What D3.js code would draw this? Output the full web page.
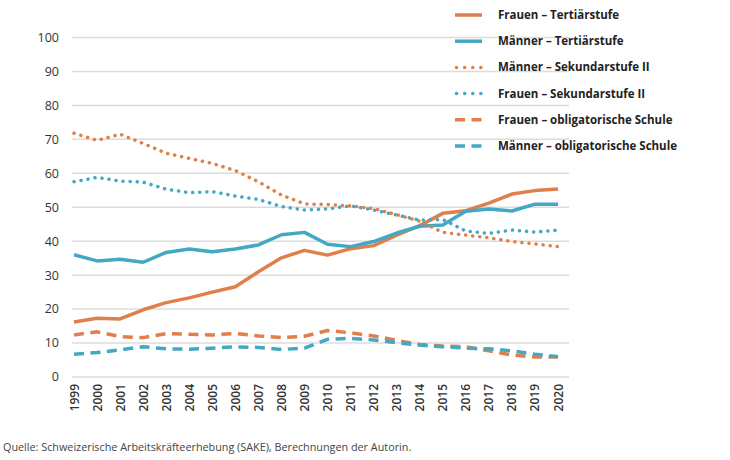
<!DOCTYPE html>
<html>
<head>
<meta charset="utf-8">
<script src="https://cdn.jsdelivr.net/npm/d3@7"></script>
<style>
  body { margin: 0; background: #fff; }
  svg { display: block; font-family: "Open Sans", sans-serif; }
</style>
</head>
<body>
<svg id="chart"></svg>
<script>
// ================================
// DATA
// ================================
const years = [1999, 2000, 2001, 2002, 2003, 2004, 2005, 2006, 2007, 2008, 2009,
    2010, 2011, 2012, 2013, 2014, 2015, 2016, 2017, 2018, 2019, 2020];

const frauenTertiaer = [16.2, 17.3, 17.1, 19.8, 21.9, 23.3, 25.0, 26.6, 31.0, 35.1, 37.3,
    35.9, 37.8, 38.7, 41.8, 44.6, 48.2, 49.0, 51.2, 53.9, 54.9, 55.4];
const maennerTertiaer = [36.0, 34.2, 34.7, 33.8, 36.7, 37.7, 36.9, 37.7, 38.9, 41.9, 42.6,
    39.1, 38.4, 39.9, 42.4, 44.4, 44.8, 48.8, 49.5, 48.9, 50.9, 50.9];
const maennerSek = [71.8, 69.7, 71.5, 68.8, 65.9, 64.4, 62.9, 60.8, 57.5, 53.6, 51.0,
    50.8, 50.4, 49.6, 47.8, 45.9, 42.6, 41.8, 41.0, 39.9, 39.2, 38.4];
const frauenSek = [57.5, 58.8, 57.7, 57.4, 55.3, 54.3, 54.6, 53.3, 52.3, 50.2, 49.2,
    49.5, 50.4, 49.2, 47.7, 46.2, 46.4, 43.0, 42.3, 43.3, 42.7, 43.3];
const frauenOblig = [12.4, 13.3, 11.9, 11.6, 12.8, 12.6, 12.4, 12.8, 12.1, 11.6, 12.0,
    13.7, 13.0, 12.1, 10.8, 9.6, 9.1, 8.9, 7.7, 6.5, 5.9, 5.9];
const maennerOblig = [6.7, 7.2, 8.0, 8.9, 8.3, 8.2, 8.5, 8.9, 8.7, 8.1, 8.5,
    11.1, 11.4, 10.9, 10.1, 9.4, 8.9, 8.5, 8.3, 7.7, 6.7, 6.0];

const yTicks = [0, 10, 20, 30, 40, 50, 60, 70, 80, 90, 100];

const seriesNames = [
    "Frauen – Tertiärstufe",
    "Männer – Tertiärstufe",
    "Männer – Sekundarstufe II",
    "Frauen – Sekundarstufe II",
    "Frauen – obligatorische Schule",
    "Männer – obligatorische Schule"
];
const seriesValues = [frauenTertiaer, maennerTertiaer, maennerSek, frauenSek, frauenOblig, maennerOblig];
const seriesStyles = ["solid", "solid", "dotted", "dotted", "dashed", "dashed"];

const sourceText = "Quelle: Schweizerische Arbeitskräfteerhebung (SAKE), Berechnungen der Autorin.";

// ================================
// SETUP
// ================================
const width = 730;
const height = 460;

const orange = "#e07f4c";
const blue = "#43a8c4";
const seriesColors = [orange, blue, orange, blue, orange, blue];

const svg = d3.select("#chart")
    .attr("width", width)
    .attr("height", height);

const x = d3.scaleLinear()
    .domain([years[0], years[years.length - 1]])
    .range([74, 558]);

const y = d3.scaleLinear()
    .domain([0, 100])
    .range([377, 37.5]);

const gridLeft = 72;
const gridRight = 569;

function dashFor(style) {
    if (style === "dotted") return "0.1,7";
    if (style === "dashed") return "10,6.5";
    return null;
}

// ================================
// GRID + Y LABELS
// ================================
const grid = svg.append("g");

grid.selectAll("line")
    .data(yTicks)
    .join("line")
    .attr("x1", gridLeft)
    .attr("x2", gridRight)
    .attr("y1", d => y(d))
    .attr("y2", d => y(d))
    .attr("stroke", "#dcdcdc")
    .attr("stroke-width", 1.5);

grid.selectAll("text")
    .data(yTicks)
    .join("text")
    .attr("x", 59)
    .attr("y", d => y(d))
    .attr("dy", "0.35em")
    .attr("text-anchor", "end")
    .style("font-size", "12.5px")
    .style("fill", "#333")
    .text(d => d);

// ================================
// X LABELS (rotated)
// ================================
svg.append("g")
    .selectAll("text")
    .data(years)
    .join("text")
    .attr("transform", d => `translate(${x(d) + 4.5}, 384) rotate(-90)`)
    .attr("text-anchor", "end")
    .style("font-size", "12px")
    .style("font-weight", "600")
    .style("fill", "#333")
    .text(d => d);

// ================================
// LINES
// ================================
const line = d3.line()
    .x((d, i) => x(years[i]))
    .y(d => y(d));

const order = [4, 5, 0, 1, 3, 2];

svg.append("g")
    .selectAll("path")
    .data(order)
    .join("path")
    .attr("d", i => line(seriesValues[i]))
    .attr("fill", "none")
    .attr("stroke", i => seriesColors[i])
    .attr("stroke-width", 3.5)
    .attr("stroke-linejoin", "round")
    .attr("stroke-linecap", i => seriesStyles[i] === "dotted" ? "round" : "butt")
    .attr("stroke-dasharray", i => dashFor(seriesStyles[i]));

// ================================
// LEGEND
// ================================
const legend = svg.append("g")
    .attr("transform", "translate(455, 15)");

const items = legend.selectAll("g")
    .data(seriesNames)
    .join("g")
    .attr("transform", (d, i) => `translate(0, ${i * 26.2})`);

items.append("line")
    .attr("x1", (d, i) => seriesStyles[i] === "dotted" ? 1.5 : 0)
    .attr("x2", 27)
    .attr("y1", 0)
    .attr("y2", 0)
    .attr("stroke", (d, i) => seriesColors[i])
    .attr("stroke-width", 3.5)
    .attr("stroke-linecap", (d, i) => seriesStyles[i] === "dotted" ? "round" : "butt")
    .attr("stroke-dasharray", (d, i) => seriesStyles[i] === "dotted" ? "0.1,8" : dashFor(seriesStyles[i]));

items.append("text")
    .attr("x", 43)
    .attr("y", 0)
    .attr("dy", "0.35em")
    .style("font-size", "11.5px")
    .style("font-weight", "700")
    .style("fill", "#222")
    .text(d => d);

// ================================
// SOURCE
// ================================
svg.append("text")
    .attr("x", 3)
    .attr("y", 451)
    .style("font-size", "10.8px")
    .style("fill", "#444")
    .text(sourceText);
</script>
</body>
</html>
